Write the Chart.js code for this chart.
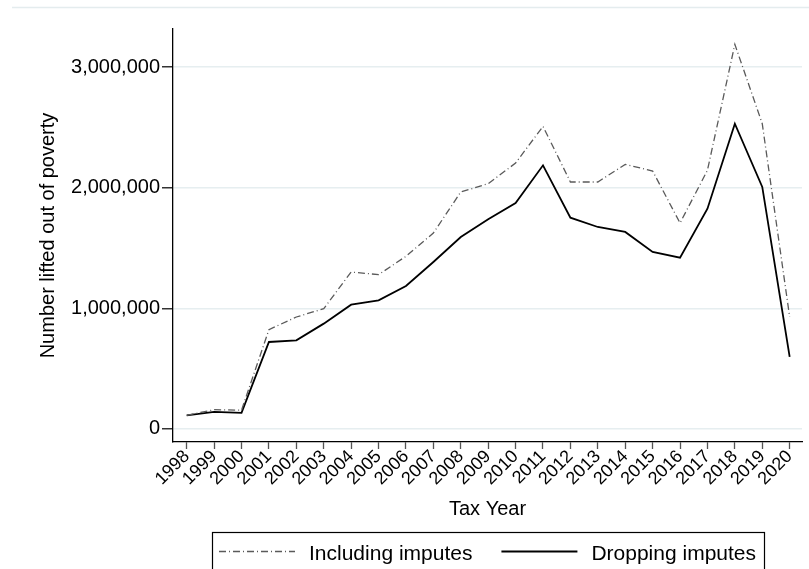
<!DOCTYPE html>
<html>
<head>
<meta charset="utf-8">
<script src="https://cdn.jsdelivr.net/npm/chart.js@4/dist/chart.umd.min.js"></script>
<style>
  html, body { margin: 0; padding: 0; background: #fff; }
  #wrap { width: 809px; height: 569px; }
</style>
</head>
<body>
<div id="wrap"><canvas id="myChart" width="809" height="569"></canvas></div>
<script>
// values
const years = [1998, 1999, 2000, 2001, 2002, 2003, 2004, 2005, 2006, 2007, 2008,
               2009, 2010, 2011, 2012, 2013, 2014, 2015, 2016, 2017, 2018, 2019, 2020];
const including = [113000, 160000, 155000, 823000, 928000, 997000, 1301000, 1279000,
                   1431000, 1624000, 1964000, 2033000, 2204000, 2508000, 2047000, 2047000,
                   2193000, 2138000, 1707000, 2144000, 3188000, 2530000, 928000];
const dropping = [113000, 141000, 133000, 721000, 735000, 873000, 1030000, 1066000,
                  1185000, 1384000, 1591000, 1738000, 1873000, 2185000, 1751000, 1674000,
                  1633000, 1467000, 1420000, 1826000, 2530000, 2006000, 597000];
const yTicks = [0, 1000000, 2000000, 3000000];

const FONT = '"Liberation Sans", Arial, sans-serif';

function toPoints(vals) {
    return years.map((yr, i) => ({ x: yr, y: vals[i] }));
}

// faint frame line at the top and the boxed legend at the bottom
const decorations = {
    id: 'decorations',
    beforeDraw(chart) {
        const ctx = chart.ctx;
        ctx.save();
        ctx.strokeStyle = '#e4ecee';
        ctx.lineWidth = 1.5;
        ctx.beginPath();
        ctx.moveTo(12, 7.5);
        ctx.lineTo(809, 7.5);
        ctx.stroke();
        ctx.restore();
    },
    afterDraw(chart) {
        const ctx = chart.ctx;
        const sets = chart.data.datasets;
        const lineW = 76, gapText = 14, gapItem = 29;
        ctx.save();
        ctx.font = '21px ' + FONT;
        const widths = sets.map(d => ctx.measureText(d.label).width);
        const total = widths.reduce((a, b) => a + b, 0) + sets.length * (lineW + gapText) + gapItem * (sets.length - 1);
        const cx = (chart.chartArea.left + chart.chartArea.right) / 2;

        ctx.strokeStyle = '#000';
        ctx.lineWidth = 1.2;
        ctx.strokeRect(Math.round(cx - 276) + 0.5, 532.5, 552, 60);

        let x = cx - total / 2;
        sets.forEach((d, i) => {
            ctx.strokeStyle = d.borderColor;
            ctx.lineWidth = d.borderWidth;
            ctx.setLineDash(d.borderDash || []);
            ctx.beginPath();
            ctx.moveTo(x, 551.5);
            ctx.lineTo(x + lineW, 551.5);
            ctx.stroke();
            ctx.setLineDash([]);
            x += lineW + gapText;
            ctx.fillStyle = '#000';
            ctx.textBaseline = 'alphabetic';
            ctx.fillText(d.label, x, 560);
            x += widths[i] + gapItem;
        });
        ctx.restore();
    }
};

const ctx = document.getElementById('myChart').getContext('2d');
new Chart(ctx, {
    type: 'line',
    data: {
        datasets: [{
            label: 'Including imputes',
            data: toPoints(including),
            borderColor: '#5a5a5a',
            borderWidth: 1.3,
            borderDash: [7, 3, 1, 3],
            pointRadius: 0,
            tension: 0
        }, {
            label: 'Dropping imputes',
            data: toPoints(dropping),
            borderColor: '#000',
            borderWidth: 1.8,
            pointRadius: 0,
            tension: 0
        }]
    },
    options: {
        responsive: false,
        animation: false,
        layout: { padding: { top: 29, right: 7, left: 0, bottom: 0 } },
        plugins: {
            legend: { display: false },
            tooltip: { enabled: false }
        },
        scales: {
            x: {
                type: 'linear',
                min: 1997.5,
                max: 2020.45,
                afterBuildTicks: axis => { axis.ticks = years.map(v => ({ value: v })); },
                afterFit: scale => { scale.height = 127; },
                grid: { drawOnChartArea: false, tickLength: 7, tickColor: '#555', tickWidth: 1.3 },
                border: { color: '#000', width: 1.3 },
                ticks: {
                    autoSkip: false,
                    maxRotation: 45,
                    minRotation: 45,
                    padding: -3,
                    color: '#000',
                    font: { family: FONT, size: 18 },
                    callback: v => String(v)
                },
                title: {
                    display: true,
                    text: 'Tax Year',
                    color: '#000',
                    font: { family: FONT, size: 20 },
                    padding: { top: 0, bottom: 48 }
                }
            },
            y: {
                min: -108000,
                max: 3315000,
                afterBuildTicks: axis => { axis.ticks = yTicks.map(v => ({ value: v })); },
                afterFit: scale => { scale.width = 173; },
                grid: { color: '#e6eef0', lineWidth: 1.6, tickLength: 11, tickColor: '#000', tickWidth: 1.2 },
                border: { color: '#000', width: 1.3 },
                ticks: {
                    padding: 2,
                    color: '#000',
                    font: { family: FONT, size: 20 },
                    callback: v => v.toLocaleString('en-US')
                },
                title: {
                    display: true,
                    text: 'Number lifted out of poverty',
                    color: '#000',
                    font: { family: FONT, size: 20 },
                    padding: { top: 36, bottom: 0 }
                }
            }
        }
    },
    plugins: [decorations]
});
</script>
</body>
</html>
